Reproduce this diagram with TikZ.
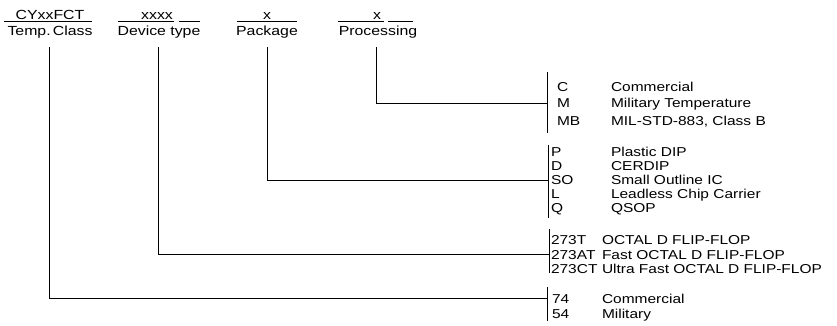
\documentclass[tikz,border=0pt]{standalone}
\usepackage{fontspec}
\setmainfont{Liberation Sans}[FakeStretch=1.2]
\begin{document}
\begin{tikzpicture}[x=1pt,y=-1pt,
  lbl/.style={inner sep=0pt, outer sep=0pt, font=\fontsize{13.2}{15}\selectfont},
  item/.style={inner sep=0pt, outer sep=0pt, font=\fontsize{12.9}{15}\selectfont, anchor=base west},
  ln/.style={line width=0.9pt, black}]
\useasboundingbox (0,0) rectangle (837,325);
% ---- header labels
\node[lbl, anchor=base] (tcode) at (50,19.5) {CYxxFCT};
\node[lbl, anchor=base] (tname) at (50,35) {Temp.\,Class};
\node[lbl, anchor=base] (dcode) at (157,19.5) {xxxx};
\node[lbl, anchor=base] (dname) at (159,35) {Device type};
\node[lbl, anchor=base] (pcode) at (267,19.5) {x};
\node[lbl, anchor=base] (pname) at (267,35) {Package};
\node[lbl, anchor=base] (rcode) at (377,19.5) {x};
\node[lbl, anchor=base] (rname) at (378,35) {Processing};
\draw[ln] (4,21) -- (92,21);
\draw[ln] (118,21) -- (174,21) (179,21) -- (200,21);
\draw[ln] (237,21) -- (297,21);
\draw[ln] (338,21) -- (384,21) (388,21) -- (413,21);
% ---- processing
\node[item] (rC) at (557,91.7) {C};
\node[item] (rCd) at (611,91.7) {Commercial};
\node[item] (rM) at (557,107.7) {M};
\node[item] (rMd) at (611,107.7) {Military Temperature};
\node[item] (rB) at (557,125.7) {MB};
\node[item] (rBd) at (611,125.7) {MIL-STD-883, Class B};
\coordinate (rtop) at (547,72);
\coordinate (rbot) at (547,133);
\coordinate (rjoin) at (547,103);
\draw[ln] (rtop) -- (rbot);
\draw[ln] (376,47) |- (rjoin);
% ---- package
\node[item] (pP) at (551,156.7) {P};
\node[item] (pPd) at (611,156.7) {Plastic DIP};
\node[item] (pD) at (551,170.7) {D};
\node[item] (pDd) at (611,170.7) {CERDIP};
\node[item] (pS) at (551,184.7) {SO};
\node[item] (pSd) at (611,184.7) {Small Outline IC};
\node[item] (pL) at (551,198.7) {L};
\node[item] (pLd) at (611,198.7) {Leadless Chip Carrier};
\node[item] (pQ) at (551,212.7) {Q};
\node[item] (pQd) at (611,212.7) {QSOP};
\coordinate (ptop) at (548,145);
\coordinate (pbot) at (548,218);
\coordinate (pjoin) at (548,180);
\draw[ln] (ptop) -- (pbot);
\draw[ln] (267,47) |- (pjoin);
% ---- device type
\node[item] (d1) at (551,244.7) {273T};
\node[item] (d1d) at (602,244.7) {OCTAL D FLIP-FLOP};
\node[item] (d2) at (551,259.2) {273AT};
\node[item] (d2d) at (602,259.2) {Fast OCTAL D FLIP-FLOP};
\node[item] (d3) at (551,273.7) {273CT};
\node[item] (d3d) at (602,273.7) {Ultra Fast OCTAL D FLIP-FLOP};
\coordinate (dtop) at (549,229);
\coordinate (dbot) at (549,273);
\coordinate (djoin) at (549,254);
\draw[ln] (dtop) -- (dbot);
\draw[ln] (158,47) |- (djoin);
% ---- temp class
\node[item] (t1) at (552,303.7) {74};
\node[item] (t1d) at (602,303.7) {Commercial};
\node[item] (t2) at (552,318.2) {54};
\node[item] (t2d) at (602,318.2) {Military};
\coordinate (ttop) at (547,287);
\coordinate (tbot) at (547,321);
\coordinate (tjoin) at (547,298);
\draw[ln] (ttop) -- (tbot);
\draw[ln] (49,47) |- (tjoin);
\end{tikzpicture}
\end{document}
